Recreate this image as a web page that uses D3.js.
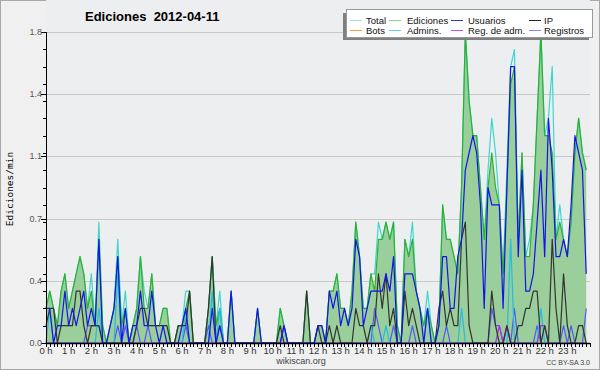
<!DOCTYPE html>
<html>
<head>
<meta charset="utf-8">
<script src="https://cdn.jsdelivr.net/npm/d3@7"></script>
<style>
  body { margin: 0; background: #f0f0f0; }
  svg { display: block; font-family: "Liberation Sans", Arial, sans-serif; }
</style>
</head>
<body>
<svg id="chart" width="600" height="370"></svg>
<script>
// chart data (edits per minute, 10 minute bins)
const title = 'Ediciones  2012-04-11';
const hourLabels = ['0 h','1 h','2 h','3 h','4 h','5 h','6 h','7 h','8 h','9 h','10 h','11 h',
  '12 h','13 h','14 h','15 h','16 h','17 h','18 h','19 h','20 h','21 h','22 h','23 h'];
const yTicks = [0, 0.36, 0.72, 1.08, 1.44, 1.8];
const yTickLabels = ['0.0', '0.4', '0.7', '1.1', '1.4', '1.8'];

const total = [
  0.2,0.3,0.2,0.1,0.3,0.4, 0.2,0.3,0.4,0.5,0.4,0.2, 0.4,0.1,0.7,0.1,0.0,0.1, 0.2,0.6,0.1,0.3,0.0,0.1,
  0.2,0.5,0.3,0.2,0.4,0.1, 0.1,0.2,0.2,0.0,0.0,0.1, 0.1,0.3,0.3,0.0,0.0,0.0, 0.0,0.2,0.5,0.1,0.3,0.0,
  0.0,0.3,0.0,0.0,0.0,0.0, 0.0,0.0,0.2,0.0,0.0,0.0, 0.0,0.0,0.2,0.1,0.0,0.0, 0.0,0.0,0.0,0.3,0.0,0.0,
  0.1,0.1,0.0,0.3,0.3,0.4, 0.2,0.2,0.1,0.3,0.7,0.5, 0.2,0.2,0.4,0.4,0.7,0.6, 0.7,0.6,0.7,0.1,0.0,0.6,
  0.5,0.7,0.3,0.2,0.1,0.3, 0.1,0.0,0.1,0.8,0.6,0.6, 0.5,0.4,0.9,1.8,1.4,1.2, 1.2,0.9,0.6,1.0,1.3,1.1,
  0.8,0.4,1.0,1.6,1.7,0.6, 1.1,0.5,0.6,0.8,1.3,1.8, 1.2,1.3,1.6,0.6,0.8,0.6, 0.5,0.7,1.1,1.3,1.1,1.0
];
const ediciones = [
  0.2,0.3,0.2,0.1,0.3,0.4, 0.2,0.3,0.4,0.5,0.4,0.2, 0.3,0.1,0.6,0.1,0.0,0.1, 0.2,0.5,0.1,0.2,0.0,0.1,
  0.2,0.5,0.2,0.2,0.4,0.1, 0.1,0.2,0.2,0.0,0.0,0.1, 0.1,0.2,0.3,0.0,0.0,0.0, 0.0,0.2,0.5,0.1,0.2,0.0,
  0.0,0.3,0.0,0.0,0.0,0.0, 0.0,0.0,0.2,0.0,0.0,0.0, 0.0,0.0,0.2,0.1,0.0,0.0, 0.0,0.0,0.0,0.3,0.0,0.0,
  0.1,0.1,0.0,0.3,0.3,0.4, 0.2,0.2,0.1,0.3,0.7,0.5, 0.2,0.2,0.4,0.3,0.6,0.6, 0.7,0.6,0.7,0.1,0.0,0.6,
  0.5,0.6,0.3,0.2,0.1,0.2, 0.1,0.0,0.1,0.8,0.6,0.6, 0.5,0.4,0.9,1.8,1.4,1.2, 1.2,0.9,0.6,0.9,1.1,0.9,
  0.8,0.4,0.9,1.5,1.6,0.6, 1.1,0.5,0.5,0.8,1.3,1.8, 1.2,1.2,1.1,0.6,0.7,0.6, 0.5,0.7,1.1,1.3,1.1,1.0
];
const usuarios = [
  0.2,0.2,0.0,0.1,0.1,0.3, 0.1,0.2,0.1,0.2,0.3,0.1, 0.2,0.1,0.6,0.0,0.0,0.1, 0.2,0.5,0.0,0.2,0.0,0.1,
  0.1,0.3,0.1,0.1,0.3,0.1, 0.0,0.1,0.0,0.0,0.0,0.0, 0.1,0.2,0.0,0.0,0.0,0.0, 0.0,0.0,0.2,0.0,0.1,0.0,
  0.0,0.3,0.0,0.0,0.0,0.0, 0.0,0.0,0.2,0.0,0.0,0.0, 0.0,0.0,0.0,0.1,0.0,0.0, 0.0,0.0,0.0,0.0,0.0,0.0,
  0.1,0.1,0.0,0.3,0.2,0.3, 0.1,0.2,0.1,0.2,0.6,0.5, 0.1,0.2,0.3,0.3,0.3,0.3, 0.4,0.3,0.5,0.0,0.0,0.4,
  0.4,0.4,0.3,0.2,0.0,0.2, 0.0,0.0,0.1,0.5,0.5,0.2, 0.2,0.5,0.6,1.0,1.1,1.2, 1.1,0.8,0.2,0.9,0.8,0.8,
  0.8,0.2,0.9,1.6,1.6,0.5, 1.0,0.3,0.3,0.4,0.7,1.0, 0.5,1.3,1.0,0.5,0.5,0.6, 0.5,0.8,1.2,1.1,1.0,0.4
];
const ip = [
  0.1,0.2,0.2,0.0,0.1,0.1, 0.1,0.1,0.3,0.3,0.1,0.0, 0.1,0.1,0.1,0.0,0.0,0.0, 0.0,0.0,0.0,0.0,0.0,0.0,
  0.1,0.2,0.2,0.1,0.1,0.1, 0.1,0.1,0.1,0.0,0.0,0.1, 0.1,0.1,0.3,0.0,0.0,0.0, 0.0,0.2,0.5,0.0,0.0,0.0,
  0.0,0.0,0.0,0.0,0.0,0.0, 0.0,0.0,0.0,0.0,0.0,0.0, 0.0,0.0,0.1,0.0,0.0,0.0, 0.0,0.0,0.0,0.3,0.0,0.0,
  0.1,0.0,0.0,0.1,0.0,0.1, 0.0,0.0,0.0,0.0,0.2,0.1, 0.1,0.0,0.1,0.1,0.4,0.2, 0.4,0.1,0.2,0.0,0.0,0.3,
  0.1,0.2,0.1,0.0,0.0,0.0, 0.0,0.0,0.2,0.3,0.1,0.2, 0.1,0.1,0.6,0.7,0.1,0.0, 0.0,0.0,0.0,0.0,0.3,0.1,
  0.0,0.0,0.1,0.0,0.0,0.1, 0.1,0.2,0.2,0.3,0.3,0.0, 0.1,0.0,0.6,0.2,0.0,0.4, 0.1,0.0,0.0,0.1,0.1,0.0
];
const registros = [
  0.0,0.0,0.0,0.0,0.0,0.0, 0.0,0.0,0.0,0.0,0.0,0.1, 0.1,0.1,0.1,0.0,0.0,0.0, 0.0,0.1,0.0,0.1,0.0,0.0,
  0.1,0.0,0.0,0.1,0.0,0.0, 0.0,0.0,0.0,0.0,0.0,0.0, 0.0,0.1,0.0,0.0,0.0,0.0, 0.0,0.1,0.0,0.0,0.1,0.0,
  0.0,0.0,0.0,0.0,0.0,0.0, 0.0,0.0,0.0,0.0,0.0,0.0, 0.0,0.0,0.0,0.1,0.0,0.0, 0.0,0.0,0.0,0.0,0.0,0.0,
  0.0,0.0,0.0,0.0,0.0,0.0, 0.0,0.0,0.0,0.0,0.0,0.0, 0.0,0.0,0.0,0.2,0.1,0.0, 0.0,0.0,0.1,0.0,0.0,0.0,
  0.0,0.1,0.0,0.0,0.0,0.0, 0.0,0.0,0.0,0.0,0.1,0.0, 0.0,0.0,0.0,0.0,0.0,0.0, 0.0,0.0,0.0,0.0,0.2,0.1,
  0.1,0.0,0.1,0.0,0.2,0.0, 0.0,0.0,0.0,0.0,0.1,0.0, 0.0,0.0,0.0,0.0,0.0,0.1, 0.0,0.1,0.0,0.0,0.0,0.2
];
const admins = [
  0.0,0.2,0.0,0.0,0.0,0.0, 0.0,0.0,0.0,0.0,0.0,0.0, 0.0,0.0,0.2,0.0,0.0,0.0, 0.0,0.4,0.0,0.0,0.0,0.0,
  0.0,0.0,0.0,0.0,0.0,0.0, 0.0,0.0,0.0,0.0,0.0,0.0, 0.0,0.2,0.0,0.0,0.0,0.0, 0.0,0.0,0.3,0.0,0.2,0.0,
  0.0,0.0,0.0,0.0,0.0,0.0, 0.0,0.0,0.0,0.0,0.0,0.0, 0.0,0.0,0.0,0.0,0.0,0.0, 0.0,0.0,0.0,0.0,0.0,0.0,
  0.0,0.0,0.0,0.0,0.0,0.0, 0.0,0.0,0.0,0.0,0.0,0.0, 0.0,0.0,0.1,0.0,0.0,0.0, 0.1,0.0,0.0,0.0,0.0,0.0,
  0.0,0.0,0.0,0.0,0.0,0.2, 0.0,0.0,0.0,0.0,0.0,0.0, 0.0,0.0,0.2,0.0,0.0,0.0, 0.0,0.0,0.0,0.0,0.0,0.0,
  0.0,0.0,0.0,0.6,0.0,0.0, 0.0,0.0,0.0,0.0,0.0,0.2, 0.0,0.0,0.0,0.0,0.0,0.0, 0.0,0.0,0.0,0.0,0.0,0.0
];
const regAdm = [
  0.0,0.0,0.0,0.0,0.0,0.0, 0.0,0.0,0.0,0.0,0.0,0.0, 0.0,0.0,0.0,0.0,0.0,0.0, 0.0,0.0,0.0,0.0,0.0,0.0,
  0.0,0.0,0.0,0.0,0.0,0.0, 0.0,0.0,0.0,0.0,0.0,0.0, 0.0,0.0,0.0,0.0,0.0,0.0, 0.0,0.0,0.0,0.0,0.0,0.0,
  0.0,0.0,0.0,0.0,0.0,0.0, 0.0,0.0,0.0,0.0,0.0,0.0, 0.0,0.0,0.0,0.0,0.0,0.0, 0.0,0.0,0.0,0.0,0.0,0.0,
  0.0,0.0,0.0,0.0,0.0,0.0, 0.0,0.0,0.0,0.0,0.0,0.0, 0.0,0.0,0.0,0.0,0.0,0.0, 0.0,0.0,0.0,0.0,0.0,0.0,
  0.0,0.0,0.0,0.0,0.0,0.0, 0.0,0.0,0.0,0.0,0.0,0.0, 0.0,0.0,0.0,0.0,0.0,0.0, 0.0,0.0,0.0,0.0,0.0,0.0,
  0.1,0.0,0.1,0.0,0.0,0.0, 0.0,0.0,0.0,0.0,0.0,0.1, 0.1,0.0,0.0,0.0,0.0,0.0, 0.0,0.0,0.0,0.0,0.0,0.0
];
const bots = [];

const legendNames = ['Total', 'Ediciones', 'Usuarios', 'IP', 'Bots', 'Admins.', 'Reg. de adm.', 'Registros'];
const legendColors = ['#a6e0d2', '#8fd08f', '#3434d4', '#222222', '#f0a040', '#62d0e2', '#c452f0', '#8484f2'];

const width = 600, height = 370;
const margin = { left: 46, right: 10, top: 32, bottom: 27 };

const svg = d3.select('#chart');

svg.append('rect')
  .attr('x', 0.5).attr('y', 0.5)
  .attr('width', width - 1).attr('height', height - 1)
  .attr('fill', '#f0f0f0').attr('stroke', '#a8a8a8');

svg.append('rect')
  .attr('x', margin.left).attr('y', 0)
  .attr('width', width - margin.left - margin.right).attr('height', height - margin.bottom)
  .attr('fill', '#edeef0');

const x = d3.scaleLinear().domain([0, 1440]).range([margin.left, width - margin.right]);
const y = d3.scaleLinear().domain([0, 1.8]).range([height - margin.bottom, margin.top]);

// grid
svg.append('g')
  .selectAll('line')
  .data(yTicks.slice(1))
  .join('line')
  .attr('x1', margin.left).attr('x2', width - margin.right)
  .attr('y1', d => Math.round(y(d)) + 0.5).attr('y2', d => Math.round(y(d)) + 0.5)
  .attr('stroke', '#c9c9c9');

const px = (d, i) => x(i * 10);

svg.append('path')
  .datum(ediciones)
  .attr('d', d3.area().x(px).y0(y(0)).y1(d => y(d)))
  .attr('fill', '#9ace9a');

function drawLine(values, color, w) {
  if (!values.length) return;
  svg.append('path')
    .datum(values)
    .attr('d', d3.line().x(px).y(d => y(d)))
    .attr('fill', 'none')
    .attr('stroke', color)
    .attr('stroke-width', w)
    .attr('stroke-linejoin', 'round');
}

drawLine(total, '#3fd6d0', 1.2);
drawLine(ediciones, '#2fb02f', 1.2);
drawLine(bots, '#f0a040', 1.2);
drawLine(registros, '#5858f4', 1.2);
drawLine(admins, '#22bde0', 1.2);
drawLine(regAdm, '#b02ce6', 1.2);
drawLine(ip, '#333333', 1.2);
drawLine(usuarios, '#1414e8', 1.2);

// axes
const yAxis = svg.append('g').attr('transform', `translate(${margin.left},0)`);
yAxis.append('line')
  .attr('x1', 0.5).attr('x2', 0.5)
  .attr('y1', y(1.8)).attr('y2', y(0))
  .attr('stroke', '#000');
yAxis.selectAll('line.minor')
  .data(y.ticks(20))
  .join('line')
  .attr('class', 'minor')
  .attr('x1', -3).attr('x2', 0)
  .attr('y1', d => Math.round(y(d)) + 0.5).attr('y2', d => Math.round(y(d)) + 0.5)
  .attr('stroke', '#000');
yAxis.selectAll('line.major')
  .data(yTicks)
  .join('line')
  .attr('class', 'major')
  .attr('x1', -5).attr('x2', 0)
  .attr('y1', d => Math.round(y(d)) + 0.5).attr('y2', d => Math.round(y(d)) + 0.5)
  .attr('stroke', '#000');
yAxis.selectAll('text')
  .data(yTicks)
  .join('text')
  .attr('x', -4).attr('y', d => y(d) + 3)
  .attr('text-anchor', 'end')
  .attr('font-size', 9)
  .attr('fill', '#555')
  .text((d, i) => yTickLabels[i]);

const xAxis = svg.append('g').attr('transform', `translate(0,${y(0)})`);
xAxis.append('line')
  .attr('x1', margin.left).attr('x2', width - margin.right)
  .attr('y1', 0.5).attr('y2', 0.5)
  .attr('stroke', '#000').attr('stroke-width', 1.5);
xAxis.selectAll('line.tick')
  .data(d3.range(0, 1441, 10))
  .join('line')
  .attr('class', 'tick')
  .attr('x1', d => Math.round(x(d)) + 0.5).attr('x2', d => Math.round(x(d)) + 0.5)
  .attr('y1', 0).attr('y2', 4)
  .attr('stroke', '#000');
xAxis.selectAll('text')
  .data(hourLabels)
  .join('text')
  .attr('x', (d, i) => x(i * 60))
  .attr('y', 11)
  .attr('text-anchor', 'middle')
  .attr('font-size', 9.5)
  .attr('fill', '#333')
  .text(d => d);

// labels
svg.append('text')
  .attr('x', 85).attr('y', 21)
  .attr('font-size', 13).attr('font-weight', 'bold')
  .style('white-space', 'pre')
  .text(title);

svg.append('text')
  .attr('transform', `translate(13,189) rotate(-90)`)
  .attr('text-anchor', 'middle')
  .attr('font-family', 'DejaVu Sans Mono, monospace')
  .attr('font-size', 9.5)
  .text('Ediciones/min');

svg.append('text')
  .attr('x', 301).attr('y', 364)
  .attr('text-anchor', 'middle')
  .attr('font-size', 9).attr('fill', '#444')
  .text('wikiscan.org');

svg.append('text')
  .attr('x', 590).attr('y', 365)
  .attr('text-anchor', 'end')
  .attr('font-size', 7).attr('fill', '#444')
  .text('CC BY-SA 3.0');

// legend
const legend = svg.append('g');
legend.append('rect')
  .attr('x', 343).attr('y', 13).attr('width', 246).attr('height', 27)
  .attr('fill', '#808080');
legend.append('rect')
  .attr('x', 346.5).attr('y', 9.5).attr('width', 246).attr('height', 28)
  .attr('fill', '#fff').attr('stroke', '#999');
const colX = [350, 389, 451, 529];
const textX = [366, 407, 468, 544];
legendNames.forEach((name, i) => {
  const c = i % 4, r = Math.floor(i / 4);
  const yy = 20 + r * 10;
  legend.append('line')
    .attr('x1', colX[c]).attr('x2', colX[c] + 12)
    .attr('y1', yy + 0.5).attr('y2', yy + 0.5)
    .attr('stroke', legendColors[i]);
  legend.append('text')
    .attr('x', textX[c]).attr('y', yy + 4)
    .attr('font-size', 9.5).attr('fill', '#111')
    .text(name);
});
</script>
</body>
</html>
